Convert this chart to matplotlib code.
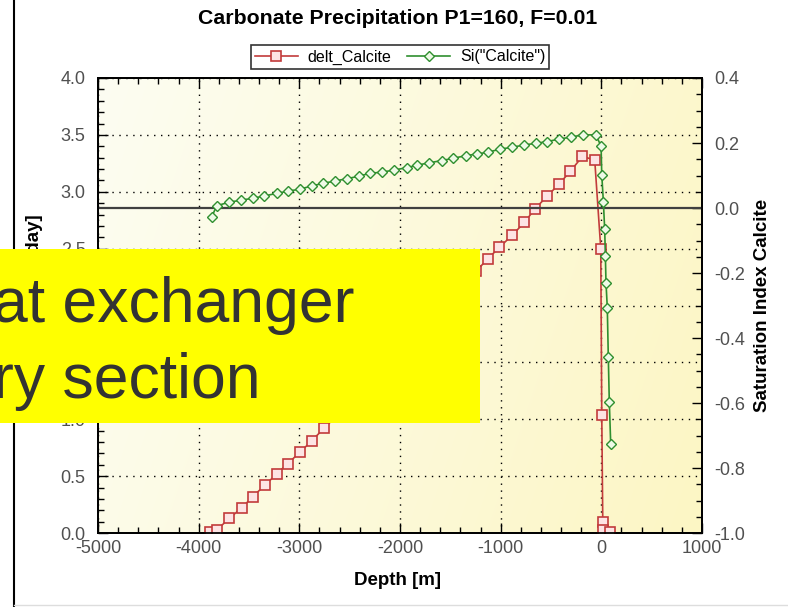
import numpy as np
import matplotlib
matplotlib.use("Agg")
from matplotlib import pyplot as plt
from matplotlib.patches import Rectangle
from matplotlib.lines import Line2D
from matplotlib.colors import to_rgb
from matplotlib.ticker import MultipleLocator, FormatStrFormatter

plt.rcParams['font.family'] = ['Liberation Sans', 'DejaVu Sans']
plt.rcParams['axes.unicode_minus'] = False

# delt_Calcite (left axis), depth in m
depth_red = [-3888, -3815, -3696, -3573, -3464, -3342, -3225, -3116, -2994, -2878, -2756,
             -2640, -2524, -2408, -2292, -2176, -2060, -1943, -1827, -1711, -1595, -1478, -1362, -1246,
             -1129, -1014, -884, -765, -659, -540, -418, -308, -189, -66,
             -6, 4, 14, 18, 86]
delt_calcite = [0.01, 0.03, 0.13, 0.22, 0.32, 0.42, 0.52, 0.61, 0.71, 0.81, 0.92,
                1.02, 1.12, 1.22, 1.32, 1.43, 1.53, 1.64, 1.75, 1.86, 1.97, 2.08, 2.19, 2.30,
                2.41, 2.51, 2.62, 2.73, 2.85, 2.96, 3.07, 3.18, 3.31, 3.28,
                2.50, 1.04, 0.10, 0.03, 0.01]

# Si("Calcite") (right axis)
depth_si = [-3870, -3821, -3696, -3580, -3463, -3348, -3225, -3110, -2993, -2877,
            -2762, -2646, -2529, -2407, -2298, -2182, -2057, -1935, -1828, -1709,
            -1586, -1471, -1347, -1238, -1123, -1007, -884, -765, -652, -543,
            -421, -304, -185, -56,
            -3, 4, 20, 33, 40, 46, 59, 69, 79, 93]
si_calcite = [-0.027, 0.007, 0.018, 0.024, 0.030, 0.037, 0.045, 0.052, 0.058, 0.068,
              0.076, 0.083, 0.090, 0.098, 0.107, 0.110, 0.117, 0.124, 0.132, 0.139,
              0.146, 0.153, 0.161, 0.166, 0.172, 0.181, 0.187, 0.194, 0.199, 0.204,
              0.212, 0.218, 0.225, 0.225,
              0.191, 0.102, 0.019, -0.066, -0.149, -0.230, -0.307, -0.459, -0.598, -0.727]

title = "Carbonate Precipitation P1=160, F=0.01"
red = '#c23b3b'
green = '#2f8f2f'
tick_col = '#505050'

fig = plt.figure(figsize=(7.88, 6.07), dpi=100)
ax = fig.add_axes([0.1244, 0.1219, 0.7665, 0.7496])
ax2 = ax.twinx()

# cream -> yellow background
c0 = np.array(to_rgb('#fdfdf2'))
c1 = np.array(to_rgb('#fcf6c4'))
U, V = np.meshgrid(np.linspace(0, 1, 200), np.linspace(0, 1, 200))
t = np.clip(0.8 * U + 0.2 * (1 - V), 0, 1)
img = c0 + t[..., None] * (c1 - c0)
ax.imshow(img, extent=[0, 1, 0, 1], transform=ax.transAxes, origin='lower',
          aspect='auto', zorder=0, interpolation='bilinear')

ax.grid(True, which='major', color='black', linestyle=(0, (1, 4)), linewidth=1.0)

ax.plot(depth_red, delt_calcite, color=red, lw=1.2, marker='s', ms=7,
        mfc='#fde4e4', mec=red, mew=1.2, zorder=3)
ax2.plot(depth_si, si_calcite, color=green, lw=1.2, marker='D', ms=5,
         mfc='#eefae6', mec=green, mew=1.0, zorder=3)
ax2.axhline(0, color='#404040', lw=1.6, zorder=2)

ax.set_xlim(-5000, 1000)
ax.set_ylim(0, 4)
ax2.set_ylim(-1.0, 0.4)
ax.xaxis.set_major_locator(MultipleLocator(1000))
ax.xaxis.set_minor_locator(MultipleLocator(200))
ax.yaxis.set_major_locator(MultipleLocator(0.5))
ax.yaxis.set_minor_locator(MultipleLocator(0.1))
ax2.yaxis.set_major_locator(MultipleLocator(0.2))
ax2.yaxis.set_minor_locator(MultipleLocator(0.05))
ax.yaxis.set_major_formatter(FormatStrFormatter('%.1f'))
ax2.yaxis.set_major_formatter(FormatStrFormatter('%.1f'))

ax.tick_params(which='both', direction='in', top=True, right=False,
               color='black', labelcolor=tick_col, labelsize=13)
ax.tick_params(which='major', length=7, width=1)
ax.tick_params(which='minor', length=4, width=1)
ax.tick_params(axis='x', pad=5)
ax.tick_params(axis='y', pad=9)
ax2.tick_params(which='both', direction='in', color='black',
                labelcolor=tick_col, labelsize=13, pad=9)
ax2.tick_params(which='major', length=7, width=1)
ax2.tick_params(which='minor', length=4, width=1)

for a in (ax, ax2):
    for s in a.spines.values():
        s.set_linewidth(1.3)

# labels
fig.text(0.504, 0.970, title, ha='center', va='center', fontsize=15.3, fontweight='bold')
fig.text(0.505, 0.044, "Depth [m]", ha='center', va='center', fontsize=13.5, fontweight='bold')
fig.text(0.968, 0.497, "Saturation Index Calcite", ha='center', va='center',
         rotation=90, fontsize=13.5, fontweight='bold')
fig.text(0.044, 0.480, "Precipitation [mol/day]", ha='center', va='center',
         rotation=90, fontsize=13.5, fontweight='bold')

handles = [Line2D([], [], color=red, lw=1.2, marker='s', ms=7, mfc='#fde4e4', mec=red, mew=1.2),
           Line2D([], [], color=green, lw=1.2, marker='D', ms=5, mfc='#eefae6', mec=green, mew=1.0)]
leg = fig.legend(handles, ['delt_Calcite', 'Si("Calcite")'], loc='center',
                 bbox_to_anchor=(0.5076, 0.906), ncol=2, frameon=True, fancybox=False,
                 edgecolor='black', fontsize=11.5, handlelength=2.7, handletextpad=0.6,
                 columnspacing=1.0, borderpad=0.25, borderaxespad=0)
leg.get_frame().set_linewidth(1.2)

# slide frame lines
fig.add_artist(Line2D([14 / 788, 14 / 788], [0, 1], color='black', lw=1.5,
                      transform=fig.transFigure))
fig.add_artist(Line2D([14 / 788, 1], [2 / 607, 2 / 607], color='#dddddd', lw=1,
                      transform=fig.transFigure))

# yellow overlay box
fig.add_artist(Rectangle((0, 0.3031), 480 / 788, 0.2867, facecolor='#ffff00',
                         edgecolor='none', transform=fig.transFigure, zorder=5))
fig.text(-7 / 788, 0.4695, "at exchanger", ha='left', va='baseline', fontsize=45,
         color='#333333', zorder=6)
fig.text(-7 / 788, 0.3443, "ry section", ha='left', va='baseline', fontsize=45,
         color='#333333', zorder=6)

fig.savefig('out.png', dpi=100)
